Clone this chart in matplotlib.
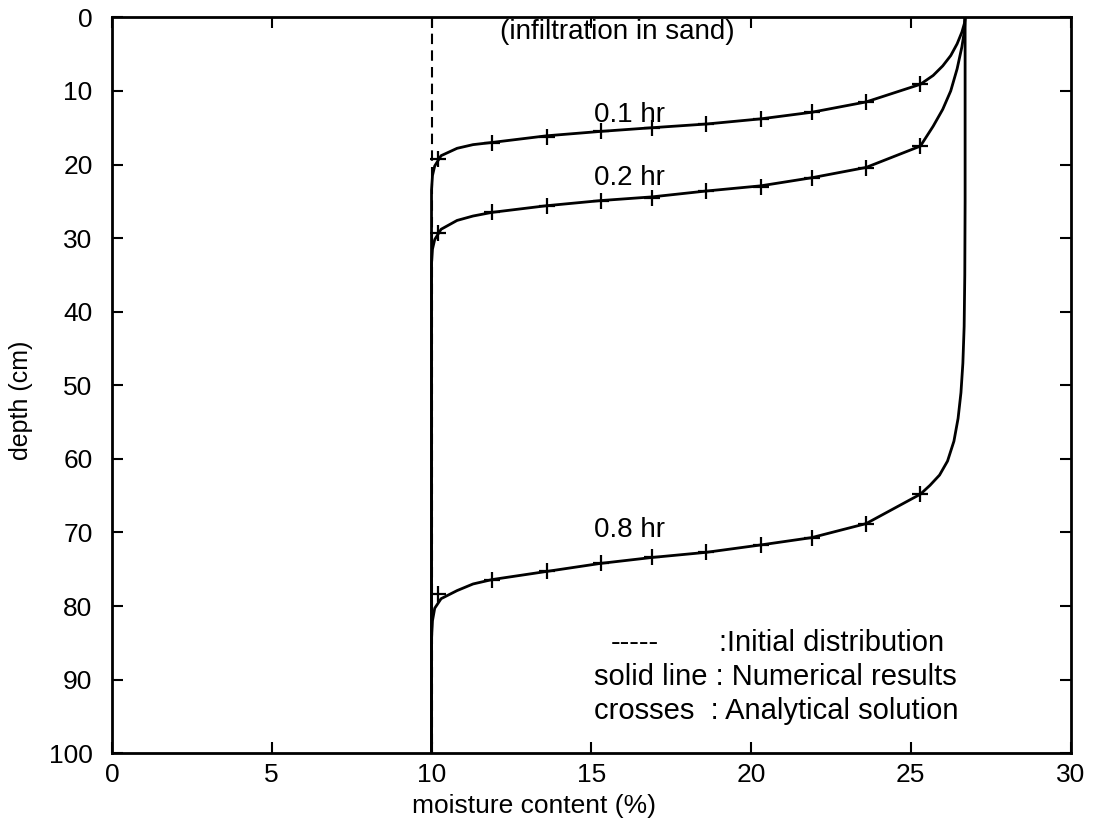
import matplotlib.pyplot as plt

# analytical solution (crosses)
cross_x = [10.2, 11.9, 13.6, 15.3, 16.9, 18.6, 20.3, 21.9, 23.6, 25.3]
cross_01 = [19.2, 17.1, 16.2, 15.5, 15.1, 14.5, 13.8, 12.9, 11.5, 9.1]
cross_02 = [29.3, 26.5, 25.7, 25.0, 24.5, 23.6, 23.0, 21.9, 20.5, 17.5]
cross_08 = [78.3, 76.4, 75.3, 74.2, 73.4, 72.7, 71.7, 70.7, 68.8, 64.8]

# numerical results (solid lines)
num01_x = [10.0, 10.0, 10.03, 10.1, 10.3, 10.8, 11.3, 11.9, 13.6, 15.3, 16.9, 18.6,
           20.3, 21.9, 23.6, 25.3, 25.7, 26.0, 26.25, 26.45, 26.6, 26.68, 26.7]
num01_y = [100, 23.5, 21.5, 20.2, 18.8, 17.8, 17.3, 17.0, 16.1, 15.5, 15.0, 14.5,
           13.8, 12.9, 11.5, 9.1, 7.9, 6.6, 5.2, 3.6, 2.0, 0.8, 0]
num02_x = [10.0, 10.0, 10.03, 10.1, 10.3, 10.8, 11.3, 11.9, 13.6, 15.3, 16.9, 18.6,
           20.3, 21.9, 23.6, 25.3, 25.7, 26.0, 26.25, 26.45, 26.6, 26.68, 26.7]
num02_y = [100, 33.5, 31.5, 30.2, 28.8, 27.6, 27.0, 26.5, 25.6, 24.9, 24.4, 23.6,
           22.9, 21.8, 20.4, 17.5, 14.8, 12.5, 10.0, 7.0, 4.0, 1.8, 0]
num08_x = [10.0, 10.0, 10.03, 10.1, 10.3, 10.8, 11.3, 11.9, 13.6, 15.3, 16.9, 18.6,
           20.3, 21.9, 23.6, 25.3, 25.6, 25.9, 26.15, 26.35, 26.48, 26.57, 26.63,
           26.67, 26.69, 26.7, 26.7]
num08_y = [100, 84.5, 82.0, 80.3, 79.0, 77.9, 77.0, 76.4, 75.3, 74.2, 73.4, 72.7,
           71.7, 70.7, 68.8, 64.8, 63.6, 62.2, 60.3, 57.6, 54.5, 51.0, 47.0,
           42.0, 35.0, 25.0, 0]

# initial distribution
init_x = [10.0, 10.0]
init_y = [0, 100]

plt.rcParams['font.family'] = ['Liberation Sans', 'DejaVu Sans']

fig = plt.figure(figsize=(10.98, 8.25), dpi=100)
ax = fig.add_axes([0.102, 0.087, 0.873, 0.892])

ax.plot(init_x, init_y, color='black', lw=1.5, linestyle=(0, (5, 3)))
for nx, ny in [(num01_x, num01_y), (num02_x, num02_y), (num08_x, num08_y)]:
    ax.plot(nx, ny, color='black', lw=2)
for cy in [cross_01, cross_02, cross_08]:
    ax.plot(cross_x, cy, linestyle='none', marker='+', color='black',
            markersize=11, markeredgewidth=1.6)

ax.text(15.1, 13.3, '0.1 hr', fontsize=20, va='center')
ax.text(15.1, 21.9, '0.2 hr', fontsize=20, va='center')
ax.text(15.1, 69.7, '0.8 hr', fontsize=20, va='center')
ax.text(15.8, 0.2, '(infiltration in sand)', fontsize=20, ha='center', va='top')

ax.text(15.6, 85.0, '-----', fontsize=21, va='center')
ax.text(19.0, 85.0, ':Initial distribution', fontsize=21, va='center')
ax.text(15.1, 89.6, 'solid line : Numerical results', fontsize=21, va='center')
ax.text(15.1, 94.2, 'crosses  : Analytical solution', fontsize=21, va='center')

ax.set_xlim(0, 30)
ax.set_ylim(100, 0)
ax.set_xticks(range(0, 31, 5))
ax.set_yticks(range(0, 101, 10))
ax.tick_params(direction='in', top=True, right=True, length=8, width=1.5,
               labelsize=19, pad=7)
ax.tick_params(axis='y', pad=14)
for s in ax.spines.values():
    s.set_linewidth(2)

ax.set_xlabel('moisture content (%)', fontsize=19)
ax.set_ylabel('depth (cm)', fontsize=18)
ax.xaxis.set_label_coords(0.44, -0.055)
ax.yaxis.set_label_coords(-0.082, 0.48)

fig.savefig('out.png', dpi=100)
